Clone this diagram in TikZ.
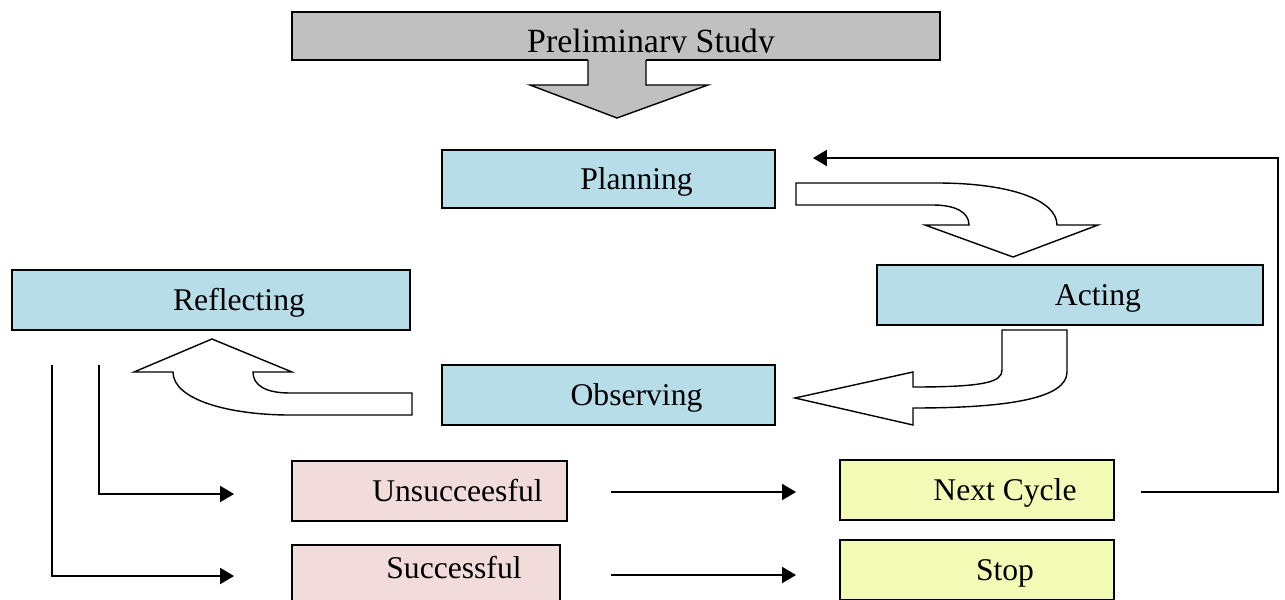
\documentclass[tikz,border=0pt]{standalone}
\usepackage{fontspec}
\setmainfont{Liberation Serif}
\usetikzlibrary{arrows.meta}
\definecolor{StudyGray}{HTML}{C0C0C0}
\definecolor{StageBlue}{HTML}{B7DDE8}
\definecolor{ResultPink}{HTML}{F2DCDB}
\definecolor{CycleYellow}{HTML}{F3FAB6}
\begin{document}
\begin{tikzpicture}[x=0.02cm, y=-0.02cm, font=\fontsize{18}{21}\selectfont,
  stagebox/.style={draw, line width=1.1pt, inner sep=0pt, minimum height=1.2cm, text height=0.42cm, text depth=0pt, execute at begin node=\hspace*{1.12cm}},
  blockarrow/.style={draw, line width=0.8pt, fill=white, line join=miter},
  flow/.style={line width=1.1pt, -{Triangle[length=0.28cm, width=0.32cm]}}]
\clip (0,0) rectangle (1285,599);

\node[draw, line width=1.1pt, fill=StudyGray, inner sep=0pt, minimum width=12.96cm, minimum height=0.96cm] (study) at (616,36) {};
\begin{scope}
\clip (study.north west) rectangle (940,52.5);
\node[anchor=base, font=\fontsize{19.3}{22}\selectfont] (studytext) at (651,52.5) {Preliminary Study};
\end{scope}
\fill[StudyGray] (588,58) -- (588,85) -- (530,85) -- (617,118) -- (708,85) -- (646,85) -- (646,58) -- cycle;
\draw[line width=0.8pt] (588,60) -- (588,85) -- (530,85) -- (617,118) -- (708,85) -- (646,85) -- (646,60);

\node[stagebox, fill=StageBlue, minimum width=6.66cm, minimum height=1.16cm] (planning) at (608.5,179) {Planning};
\node[stagebox, fill=StageBlue, minimum width=7.72cm] (acting) at (1070,295) {Acting};
\node[stagebox, fill=StageBlue, minimum width=6.66cm] (observing) at (608.5,395) {Observing};
\node[stagebox, fill=StageBlue, minimum width=7.96cm] (reflecting) at (211,300) {Reflecting};
\node[stagebox, fill=ResultPink, minimum width=5.5cm] (unsuccessful) at (429.5,491) {Unsucceesful};
\node[stagebox, fill=ResultPink, minimum width=5.36cm, text depth=0.28cm] (successful) at (426,575) {Successful};
\node[stagebox, fill=CycleYellow, minimum width=5.48cm] (nextcycle) at (977,490) {Next Cycle};
\node[stagebox, fill=CycleYellow, minimum width=5.48cm] (stop) at (977,570) {Stop};

\draw[blockarrow] (796,183) -- (937,183) .. controls (1010,183) and (1057,200) .. (1057,225) -- (1098,225) -- (1013,257) -- (925,225) -- (969,225) .. controls (969,212) and (955,205) .. (933,205) -- (796,205) -- cycle;
\draw[blockarrow] (1002,330) -- (1067,330) -- (1067,372) .. controls (1067,398) and (1010,408) .. (913,408) -- (913,425) -- (795,398) -- (913,372) -- (913,387) .. controls (985,387) and (1002,382) .. (1002,370) -- cycle;
\draw[blockarrow] (412,393) -- (290,393) .. controls (265,393) and (253,385) .. (253,372) -- (292,372) -- (212,339) -- (134,372) -- (173,372) .. controls (173,400) and (230,415) .. (290,415) -- (412,415) -- cycle;

\coordinate (passfork) at ([xshift=0.82cm, yshift=-0.68cm]reflecting.south west);
\coordinate (failfork) at ([xshift=1.76cm, yshift=-0.68cm]reflecting.south west);
\coordinate (loopcorner) at (1278,158);

\draw[flow] (failfork) |- ([xshift=-1.14cm, yshift=-0.06cm]unsuccessful.west);
\draw[flow] (passfork) |- ([xshift=-1.14cm, yshift=-0.02cm]successful.west);
\draw[flow, shorten <=0.86cm, shorten >=0.86cm] ([yshift=-0.02cm]unsuccessful.east) -- ([yshift=-0.02cm]unsuccessful.east -| nextcycle.west);
\draw[flow, shorten <=1cm, shorten >=0.86cm] (successful.east) -- (successful.east -| stop.west);
\draw[flow, shorten <=0.52cm, shorten >=0.74cm] ([yshift=-0.04cm]nextcycle.east) -| (loopcorner) -- (loopcorner -| planning.east);

\end{tikzpicture}
\end{document}
